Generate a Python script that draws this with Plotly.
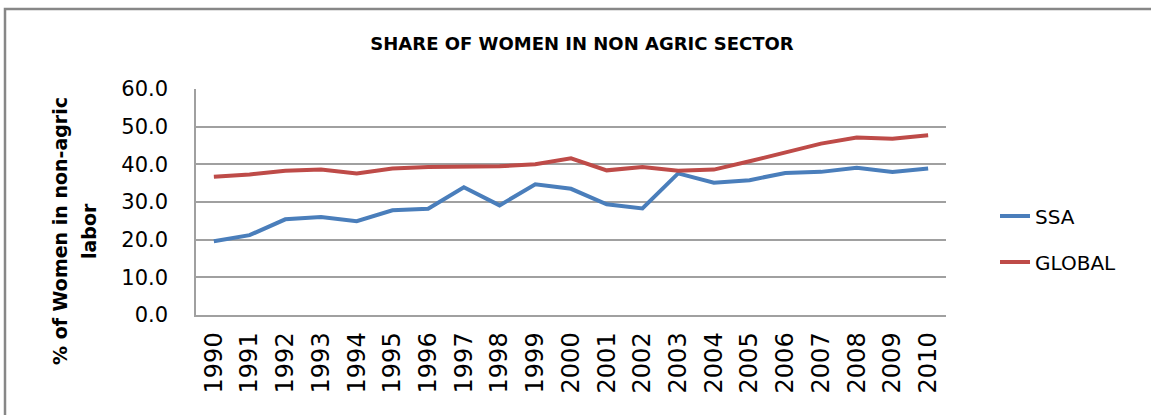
import plotly.graph_objects as go

years = [str(y) for y in range(1990, 2011)]
ssa = [19.6, 21.2, 25.4, 26.0, 24.9, 27.8, 28.2, 33.9, 29.1, 34.7, 33.5,
       29.4, 28.3, 37.6, 35.1, 35.8, 37.7, 38.0, 39.1, 38.0, 38.9]
global_ = [36.7, 37.3, 38.3, 38.6, 37.6, 38.9, 39.3, 39.5, 39.5, 40.0, 41.6,
           38.4, 39.3, 38.3, 38.6, 40.8, 43.1, 45.5, 47.1, 46.8, 47.7]
y_ticks = [0, 10, 20, 30, 40, 50, 60]

W, H = 1151, 415
L, R, T, B = 196, 205, 89, 100
pw, ph = W - L - R, H - T - B

def px(x):
    return (x - L) / pw

def py(y):
    return (H - B - y) / ph

fig = go.Figure()
fig.add_trace(go.Scatter(x=years, y=ssa, name="SSA", mode="lines",
                         line=dict(color="#4a7ebb", width=4), legend="legend",
                         showlegend=True))
fig.add_trace(go.Scatter(x=years, y=global_, name="GLOBAL", mode="lines",
                         line=dict(color="#be4b48", width=4), legend="legend2",
                         showlegend=True))

leg_common = dict(xanchor="left", yanchor="middle", bgcolor="rgba(0,0,0,0)",
                  visible=True,
                  font=dict(family="DejaVu Sans", size=20, color="#000000"))
grid_col = "#a0a0a0"
fig.update_layout(
    width=W, height=H, autosize=False, showlegend=True,
    margin=dict(l=L, r=R, t=T, b=B, pad=0),
    paper_bgcolor="white", plot_bgcolor="white",
    title=dict(text="<b>SHARE OF WOMEN IN NON AGRIC SECTOR</b>",
               x=582 / W, xanchor="center", y=1 - 44 / H, yanchor="middle",
               font=dict(family="DejaVu Sans", size=18, color="#000000")),
    legend=dict(x=px(995), y=py(216), **leg_common),
    legend2=dict(x=px(995), y=py(262), **leg_common),
    xaxis=dict(type="category", range=[-0.5, 20.5], tickangle=-90,
               showgrid=False, showline=True, linecolor=grid_col, linewidth=1.5,
               ticks="", ticklabelstandoff=6,
               tickfont=dict(family="DejaVu Sans", size=24, color="#000000")),
    yaxis=dict(range=[0, 60], tickvals=y_ticks, tickformat=".1f",
               showgrid=True, gridcolor=grid_col, gridwidth=1.5,
               showline=True, linecolor=grid_col, linewidth=1.5,
               zeroline=False, ticks="", ticklabelstandoff=22,
               tickfont=dict(family="DejaVu Sans", size=21, color="#000000")),
    shapes=[dict(type="rect", xref="paper", yref="paper",
                 x0=px(5), x1=px(W + 20), y0=py(H + 20), y1=py(9),
                 line=dict(color="#878787", width=2.5), fillcolor="rgba(0,0,0,0)",
                 layer="below")],
    annotations=[
        dict(text="<b>% of Women in non-agric</b>", xref="paper", yref="paper",
             x=px(60), y=py(231), textangle=-90, showarrow=False,
             xanchor="center", yanchor="middle",
             font=dict(family="DejaVu Sans", size=19, color="#000000")),
        dict(text="<b>labor</b>", xref="paper", yref="paper",
             x=px(89), y=py(231), textangle=-90, showarrow=False,
             xanchor="center", yanchor="middle",
             font=dict(family="DejaVu Sans", size=19, color="#000000")),
    ],
)

fig.write_html(
    "out.html",
    config={"displayModeBar": False},
    post_script="document.body.style.margin='0';document.body.style.overflow='hidden';"
                "document.documentElement.style.overflow='hidden';",
)
